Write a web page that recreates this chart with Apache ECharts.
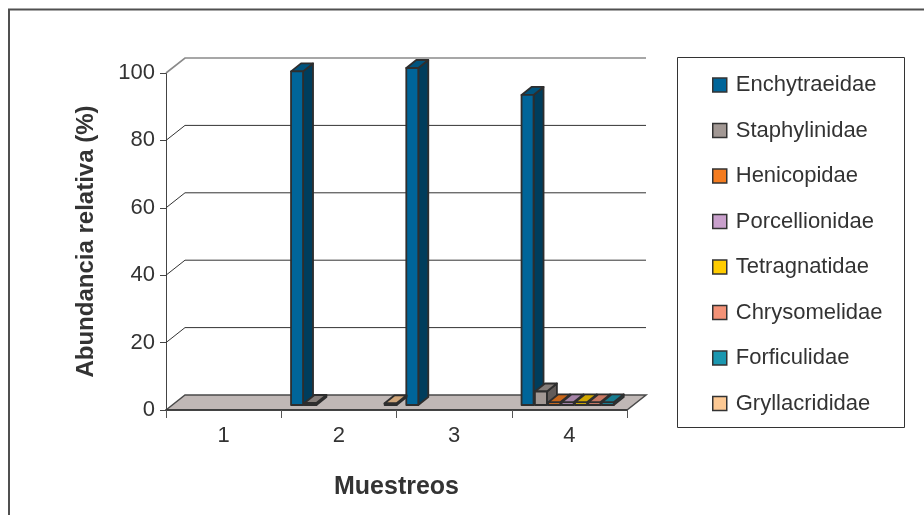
<!DOCTYPE html>
<html>
<head>
<meta charset="utf-8">
<script src="https://cdn.jsdelivr.net/npm/echarts@6/dist/echarts.min.js"></script>
<style>
  html, body { margin: 0; padding: 0; background: #ffffff; }
  #chart { width: 924px; height: 515px; }
</style>
</head>
<body>
<div id="chart"></div>
<script>
// Muestreos (sampling rounds)
const categories = ['1', '2', '3', '4'];

// Relative abundance (%) of each family per sampling; null = not recorded
const enchytraeidae  = [null, 99,   100,  92];
const staphylinidae  = [null, 0.6,  null, 4];
const henicopidae    = [null, null, null, 0.8];
const porcellionidae = [null, null, null, 0.8];
const tetragnatidae  = [null, null, null, 0.8];
const chrysomelidae  = [null, null, null, 0.8];
const forficulidae   = [null, null, null, 0.8];
const gryllacrididae = [null, 0.5,  null, null];

const yTicks = [0, 20, 40, 60, 80, 100];

const families = [
  { name: 'Enchytraeidae',  values: enchytraeidae,  color: '#006599' },
  { name: 'Staphylinidae',  values: staphylinidae,  color: '#a29894' },
  { name: 'Henicopidae',    values: henicopidae,    color: '#f47c20' },
  { name: 'Porcellionidae', values: porcellionidae, color: '#c9a0cc' },
  { name: 'Tetragnatidae',  values: tetragnatidae,  color: '#ffcc00' },
  { name: 'Chrysomelidae',  values: chrysomelidae,  color: '#f39277' },
  { name: 'Forficulidae',   values: forficulidae,   color: '#1b97b0' },
  { name: 'Gryllacrididae', values: gryllacrididae, color: '#fdc994' }
];

const FONT = "'Liberation Sans', Arial, sans-serif";
const TEXT = '#333333';
const EDGE = '#2e2e2e';

// oblique projection of the 3D box (floor / back wall)
const WALL_DX = 19, WALL_DY = -15;
// bar placement inside the box
const BAR_FY = -5;           // bars sit slightly behind the front edge
const BAR_DX = 10, BAR_DY = -8;

function shade(hex, k) {
  const n = parseInt(hex.slice(1), 16);
  const r = Math.round(((n >> 16) & 255) * k);
  const g = Math.round(((n >> 8) & 255) * k);
  const b = Math.round((n & 255) * k);
  return 'rgb(' + r + ',' + g + ',' + b + ')';
}

// floor, back wall gridlines and side-wall diagonals
function renderBox(params, api) {
  const catW = api.size([1, 0])[0];
  const xL = api.coord([0, 0])[0] - catW / 2;
  const xR = api.coord([categories.length - 1, 0])[0] + catW / 2;
  const y0 = api.coord([0, 0])[1];
  const children = [];
  children.push({
    type: 'polygon',
    shape: { points: [[xL, y0], [xL + WALL_DX, y0 + WALL_DY], [xR + WALL_DX, y0 + WALL_DY], [xR, y0]] },
    style: { fill: '#c0b8b6', stroke: '#4a4a4a', lineWidth: 1.5 }
  });
  yTicks.forEach(function (t) {
    if (t === 0) return;
    const y = api.coord([0, t])[1];
    const top = t === yTicks[yTicks.length - 1];
    children.push({
      type: 'polyline',
      shape: { points: [[xL, y], [xL + WALL_DX, y + WALL_DY], [xR + WALL_DX, y + WALL_DY]] },
      style: { fill: null, stroke: top ? '#8a8a8a' : '#333333', lineWidth: top ? 1.6 : 1 }
    });
  });
  return { type: 'group', children: children };
}

function makeBarRenderer(si, color) {
  return function (params, api) {
    const v = api.value(1);
    if (v === null || v === undefined || isNaN(v)) return null;
    const ci = api.value(0);
    const catW = api.size([1, 0])[0];
    const base = api.coord([ci, 0]);
    const topP = api.coord([ci, v]);
    const slot = catW * 0.116;
    const w = catW * 0.104;
    const x0 = base[0] - catW / 2 + catW * 0.085 + si * slot;
    const yb = base[1] + BAR_FY;
    const yt = topP[1] + BAR_FY;
    const st = { stroke: EDGE, lineWidth: 1.8, lineJoin: 'round' };
    return {
      type: 'group',
      children: [
        { type: 'polygon',
          shape: { points: [[x0 + w, yb], [x0 + w + BAR_DX, yb + BAR_DY], [x0 + w + BAR_DX, yt + BAR_DY], [x0 + w, yt]] },
          style: Object.assign({ fill: shade(color, 0.6) }, st) },
        { type: 'polygon',
          shape: { points: [[x0, yt], [x0 + BAR_DX, yt + BAR_DY], [x0 + w + BAR_DX, yt + BAR_DY], [x0 + w, yt]] },
          style: Object.assign({ fill: shade(color, 0.82) }, st) },
        { type: 'rect',
          shape: { x: x0, y: yt, width: w, height: yb - yt },
          style: Object.assign({ fill: color }, st) }
      ]
    };
  };
}

const series = [{
  type: 'custom',
  id: 'box',
  renderItem: renderBox,
  data: [[0, 0]],
  clip: false,
  silent: true,
  z: 1
}];

families.forEach(function (f, si) {
  series.push({
    type: 'custom',
    name: f.name,
    renderItem: makeBarRenderer(si, f.color),
    data: f.values.map(function (v, i) { return [i, v === null ? '-' : v]; }),
    encode: { x: 0, y: 1 },
    itemStyle: { color: f.color },
    clip: false,
    z: 2
  });
});

const chart = echarts.init(document.getElementById('chart'), null, { renderer: 'canvas' });
chart.setOption({
  animation: false,
  backgroundColor: '#ffffff',
  textStyle: { fontFamily: FONT, color: TEXT },
  grid: { left: 166, right: 297, top: 73, bottom: 105 },
  xAxis: {
    type: 'category',
    data: categories,
    boundaryGap: true,
    name: 'Muestreos',
    nameLocation: 'middle',
    nameGap: 65,
    nameTextStyle: { fontFamily: FONT, fontSize: 25, fontWeight: 'bold', color: TEXT },
    axisLine: { show: true, lineStyle: { color: '#333333', width: 1.5 } },
    axisTick: { show: true, length: 8, lineStyle: { color: '#555555' } },
    axisLabel: { fontFamily: FONT, fontSize: 22, color: TEXT, margin: 15 },
    splitLine: { show: false },
    z: 3
  },
  yAxis: {
    type: 'value',
    min: 0,
    max: 100,
    interval: 20,
    name: 'Abundancia relativa (%)',
    nameLocation: 'middle',
    nameGap: 68,
    nameTextStyle: { fontFamily: FONT, fontSize: 24, fontWeight: 'bold', color: TEXT },
    axisLine: { show: true, lineStyle: { color: '#444444', width: 1 } },
    axisTick: { show: true, length: 6, lineStyle: { color: '#444444' } },
    axisLabel: { fontFamily: FONT, fontSize: 22, color: TEXT, margin: 11 },
    splitLine: { show: false }
  },
  legend: {
    data: families.map(function (f) { return f.name; }),
    orient: 'vertical',
    left: 707,
    top: 69,
    itemWidth: 14,
    itemHeight: 14,
    itemGap: 23.5,
    icon: 'rect',
    itemStyle: { borderColor: '#333333', borderWidth: 1.5 },
    textStyle: { fontFamily: FONT, fontSize: 22, lineHeight: 22, color: TEXT, padding: [0, 0, 0, 4] },
    selectedMode: false
  },
  graphic: [
    { type: 'rect', silent: true, z: 0,
      shape: { x: 9, y: 9.5, width: 1000, height: 1000 },
      style: { fill: null, stroke: '#505050', lineWidth: 2 } },
    { type: 'rect', silent: true, z: 0,
      shape: { x: 677.5, y: 57.5, width: 227, height: 370 },
      style: { fill: null, stroke: '#333333', lineWidth: 1 } }
  ],
  series: series
});
</script>
</body>
</html>
